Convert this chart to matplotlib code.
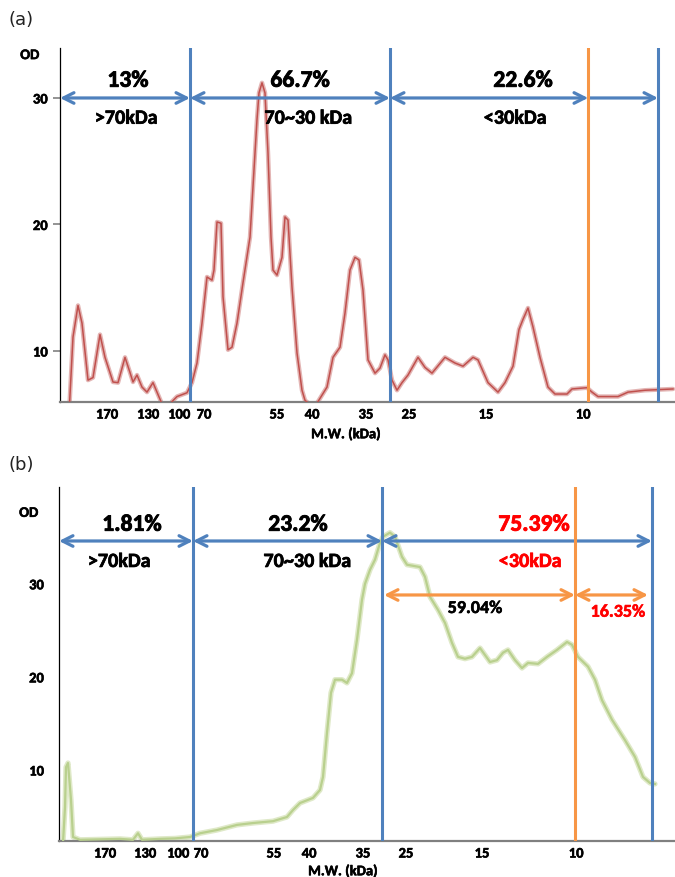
import numpy as np
import matplotlib
matplotlib.use('Agg')
import matplotlib.pyplot as plt
import matplotlib.patheffects as pe

plt.rcParams['font.family'] = ['Carlito', 'DejaVu Sans']

# lane position (scan distance) and OD readings, panel (a)
pos_a = [69, 73, 78, 82, 88, 93, 100, 105, 113, 118, 125, 130, 133, 137, 142, 147, 153, 157, 161, 166,
         172, 177, 187, 192, 197, 202, 207, 212, 214, 217, 221, 223, 228, 232, 237, 243, 250, 253, 257, 259,
         262, 265, 268, 271, 273, 277, 282, 285, 288, 292, 297, 302, 305, 308, 313, 318, 327, 333, 340, 345,
         350, 355, 359, 363, 368, 375, 380, 385, 388, 392, 397, 402, 408, 418, 425, 432, 445, 455, 463, 473,
         478, 488, 498, 505, 513, 519, 523, 528, 533, 540, 548, 555, 567, 572, 587, 592, 598, 608, 618, 628,
         645, 673]
od_a = [5.0, 11.1, 13.6, 12.2, 7.7, 7.9, 11.3, 9.5, 7.55, 7.5, 9.5, 8.3, 7.55, 8.1, 7.15, 6.75, 7.5, 6.75, 6.0, 5.3,
        6.0, 6.4, 6.7, 7.5, 9.05, 12.2, 15.85, 15.6, 16.4, 20.2, 20.1, 14.3, 10.1, 10.3, 12.2, 15.4, 19.0, 23.0, 28.3, 30.4,
        31.2, 30.4, 25.65, 19.0, 16.4, 16.0, 17.4, 20.6, 20.35, 15.05, 9.85, 6.9, 6.1, 5.9, 5.5, 6.0, 7.15, 9.5, 10.3, 13.0,
        16.4, 17.4, 17.2, 14.8, 9.3, 8.25, 8.65, 9.7, 9.3, 7.7, 6.9, 7.5, 8.1, 9.5, 8.7, 8.25, 9.5, 9.05, 8.8, 9.5,
        9.3, 7.5, 6.75, 7.5, 8.8, 11.7, 12.5, 13.4, 11.9, 9.5, 7.15, 6.6, 6.6, 7.0, 7.1, 6.75, 6.4, 6.4, 6.4, 6.75,
        6.9, 7.0]

# panel (b)
pos_b = [63, 65, 66, 68, 71, 73, 80, 100, 120, 133, 138, 142, 160, 175, 190, 200, 217, 237, 253, 273,
         287, 293, 300, 313, 320, 323, 327, 331, 335, 342, 347, 352, 357, 362, 365, 370, 375, 380, 383, 390,
         395, 402, 407, 420, 425, 430, 438, 445, 452, 458, 465, 472, 480, 485, 490, 497, 503, 508, 515, 522,
         528, 538, 547, 557, 567, 572, 578, 588, 595, 602, 612, 625, 635, 643, 650, 655]
od_b = [2.2, 6.0, 10.3, 10.75, 6.8, 2.8, 2.5, 2.55, 2.6, 2.5, 3.2, 2.5, 2.6, 2.65, 2.8, 3.2, 3.55, 4.1, 4.3, 4.5,
        4.95, 5.7, 6.45, 7.0, 7.85, 9.25, 14.0, 18.3, 19.7, 19.7, 19.35, 20.4, 24.0, 28.3, 30.0, 31.5, 32.6, 34.4, 35.05, 35.5,
        35.05, 32.9, 32.05, 31.8, 30.75, 28.6, 27.2, 25.8, 23.65, 22.15, 21.95, 22.15, 23.1, 22.35, 21.6, 21.8, 22.6, 22.9, 21.8, 20.95,
        21.5, 21.4, 22.15, 22.9, 23.75, 23.45, 22.15, 21.1, 19.7, 17.5, 15.4, 13.2, 11.4, 9.25, 8.6, 8.5]

mw_labels = ['170', '130', '100', '70', '55', '40', '35', '25', '15', '10']
mw_pos_a = [107, 148, 179, 204, 277, 312, 366, 409, 486, 583]
mw_pos_b = [105, 145, 178, 201, 274, 309, 363, 406, 482, 576]

# region borders (blue), the 10 kDa border (orange)
bounds_a = [60, 190, 390, 658]
cut10_a = 588
bounds_b = [59, 193, 382, 652]
cut10_b = 575

pct_a = ['13%', '66.7%', '22.6%']
pct_b = ['1.81%', '23.2%', '75.39%']
ranges = ['>70kDa', '70~30 kDa', '<30kDa']
sub_pct_b = ['59.04%', '16.35%']

BLUE = '#4f81bd'
ORANGE = '#f79646'
RED = '#ff0000'


def heavy(color='black', w=0.5):
  # thicken the glyphs a bit, the original was rendered quite heavy
  return [pe.withStroke(linewidth=w, foreground=color)]


fig = plt.figure(figsize=(6.75, 8.77), dpi=100)
ax_a = fig.add_axes([60 / 675, 1 - 402 / 877, 615 / 675, 354 / 877])
ax_b = fig.add_axes([59 / 675, 1 - 841 / 877, 616 / 675, 354 / 877])


def style_axes(ax, xlim, ylim, mw_pos, ytick_len, od_y):
  ax.set_xlim(*xlim)
  ax.set_ylim(*ylim)
  for s in ['top', 'right']:
    ax.spines[s].set_visible(False)
  ax.spines['left'].set_color('black')
  ax.spines['left'].set_linewidth(0.9)
  ax.spines['bottom'].set_color('#808080')
  ax.spines['bottom'].set_linewidth(1.6)
  ax.set_xticks(mw_pos)
  ax.set_xticklabels(mw_labels, fontsize=10.5, fontweight='bold', path_effects=heavy(w=0.4))
  ax.tick_params(axis='x', length=0, pad=4)
  ax.set_yticks([10, 20, 30])
  ax.set_yticklabels(['10', '20', '30'], fontsize=10.5, fontweight='bold', path_effects=heavy(w=0.4))
  ax.tick_params(axis='y', length=ytick_len, color='#808080', width=1.2, pad=4 if ytick_len else 11)
  ax.text(-0.049, od_y, 'OD', transform=ax.transAxes, fontsize=10.5, fontweight='bold',
          ha='center', va='center', path_effects=heavy(w=0.4))


def arrow(ax, x0, x1, y, color, style='<->'):
  ax.annotate('', xy=(x1, y), xytext=(x0, y),
              arrowprops=dict(arrowstyle=style + ',head_length=0.75,head_width=0.38',
                              color=color, lw=2.3, shrinkA=0, shrinkB=0))


# ---- panel (a)
style_axes(ax_a, (60, 675), (5.97, 33.95), mw_pos_a, 5, 0.980)
ax_a.plot(pos_a, od_a, color='#e3b5b4', lw=3.2, solid_capstyle='round', zorder=2)
ax_a.plot(pos_a, od_a, color='#c0504d', lw=1.1, zorder=3)
for b in bounds_a[1:]:
  ax_a.axvline(b, color=BLUE, lw=2.2, zorder=4)
ax_a.axvline(cut10_a, color=ORANGE, lw=2.2, zorder=4)
arrow(ax_a, bounds_a[0], bounds_a[1], 30, BLUE)
arrow(ax_a, bounds_a[1], bounds_a[2], 30, BLUE)
arrow(ax_a, bounds_a[2], cut10_a, 30, BLUE)
arrow(ax_a, cut10_a, bounds_a[3], 30, BLUE, '->')
for x, t in zip([128, 300, 523], pct_a):
  ax_a.text(x, 31.4, t, fontsize=17, fontweight='bold', ha='center', va='center', zorder=5,
            path_effects=heavy(w=0.6))
for x, t in zip([126, 308, 515], ranges):
  ax_a.text(x, 28.4, t, fontsize=14.5, fontweight='bold', ha='center', va='center', zorder=5,
            path_effects=heavy(w=0.5))
fig.text(346 / 675, 1 - 434 / 877, 'M.W. (kDa)', fontsize=10.5, fontweight='bold', ha='center', va='center',
         path_effects=heavy(w=0.4))
fig.text(8 / 675, 1 - 20 / 877, '(a)', fontsize=13, family='DejaVu Sans', color='#222222', ha='left', va='center')

# ---- panel (b)
style_axes(ax_b, (59, 675), (2.37, 40.4), mw_pos_b, 0, 0.927)
ax_b.plot(pos_b, od_b, color='#dfe9c8', lw=3.8, solid_capstyle='round', zorder=2)
ax_b.plot(pos_b, od_b, color='#b9d08e', lw=1.6, zorder=3)
for b in bounds_b[1:]:
  ax_b.axvline(b, color=BLUE, lw=2.2, zorder=4)
ax_b.axvline(cut10_b, color=ORANGE, lw=2.2, zorder=4)
arrow(ax_b, bounds_b[0], bounds_b[1], 34.6, BLUE)
arrow(ax_b, bounds_b[1], bounds_b[2], 34.6, BLUE)
arrow(ax_b, bounds_b[2], bounds_b[3], 34.6, BLUE)
arrow(ax_b, bounds_b[2] + 2, cut10_b, 28.8, ORANGE)
arrow(ax_b, cut10_b, bounds_b[3] - 4, 28.8, ORANGE)
for x, t, c in zip([132, 298, 534], pct_b, ['black', 'black', RED]):
  ax_b.text(x, 36.4, t, fontsize=17, fontweight='bold', color=c, ha='center', va='center', zorder=5,
            path_effects=heavy(c, 0.6))
for x, t, c in zip([119, 307, 530], ranges, ['black', 'black', RED]):
  ax_b.text(x, 32.4, t, fontsize=14.5, fontweight='bold', color=c, ha='center', va='center', zorder=5,
            path_effects=heavy(c, 0.5))
ax_b.text(475, 27.4, sub_pct_b[0], fontsize=13, fontweight='bold', ha='center', va='center', zorder=5,
          path_effects=heavy(w=0.4))
ax_b.text(618, 27.0, sub_pct_b[1], fontsize=13, fontweight='bold', color=RED, ha='center', va='center', zorder=5,
          path_effects=heavy(RED, 0.4))
fig.text(343 / 675, 1 - 871 / 877, 'M.W. (kDa)', fontsize=10.5, fontweight='bold', ha='center', va='center',
         path_effects=heavy(w=0.4))
fig.text(8 / 675, 1 - 465 / 877, '(b)', fontsize=13, family='DejaVu Sans', color='#222222', ha='left', va='center')

fig.savefig('out.png', dpi=100)
